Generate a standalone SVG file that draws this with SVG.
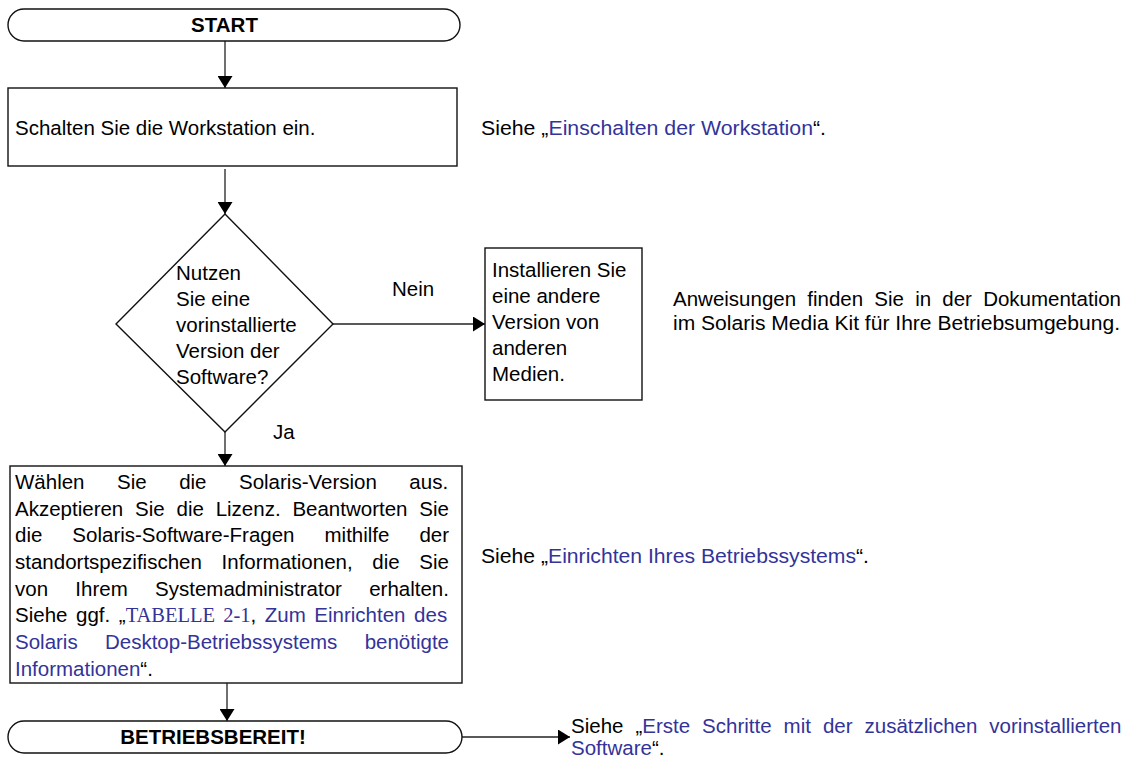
<svg xmlns="http://www.w3.org/2000/svg" width="1130" height="763" viewBox="0 0 1130 763">
<defs>
<style>
.t{font-family:"Liberation Sans",Arial,Helvetica,sans-serif;font-size:20.5px;fill:#000}
.b{font-weight:bold}
.l{fill:#333399}
.s{font-family:"Liberation Serif","Times New Roman",serif}
.shape{fill:#fff;stroke:#111;stroke-width:1.4}
.con{fill:none;stroke:#222;stroke-width:1.3}
</style>
<marker id="ah" viewBox="0 0 12 15" refX="12" refY="7.5" markerWidth="12" markerHeight="15" markerUnits="userSpaceOnUse" orient="auto">
<path d="M0,0 L12,7.5 L0,15 z" fill="#000"/>
</marker>
</defs>
<rect width="1130" height="763" fill="#fff"/>

<g id="connectors">
<path class="con" d="M225,41 V88" marker-end="url(#ah)"/>
<path class="con" d="M225,169 V214" marker-end="url(#ah)"/>
<path class="con" d="M333,324 H485" marker-end="url(#ah)"/>
<path class="con" d="M225,432 V466" marker-end="url(#ah)"/>
<path class="con" d="M227,683 V721" marker-end="url(#ah)"/>
<path class="con" d="M462,737 H570" marker-end="url(#ah)"/>
<text class="t" x="392" y="296">Nein</text>
<text class="t" x="273" y="439">Ja</text>
</g>

<g id="start">
<rect class="shape" x="8" y="9" width="452" height="32" rx="16" ry="16"/>
<text class="t b" x="224.5" y="32" text-anchor="middle">START</text>
</g>

<g id="step-power">
<rect class="shape" x="8" y="88" width="449" height="78"/>
<text class="t" x="15" y="135">Schalten Sie die Workstation ein.</text>
</g>

<g id="note-power">
<text class="t" x="481" y="135" textLength="345" lengthAdjust="spacingAndGlyphs">Siehe „<tspan class="l">Einschalten der Workstation</tspan>“.</text>
</g>

<g id="decision">
<path class="shape" d="M225,214 L333,324 L225,432 L116,324 Z"/>
<text class="t" x="176" y="280">Nutzen</text>
<text class="t" x="176" y="306">Sie eine</text>
<text class="t" x="176" y="332">vorinstallierte</text>
<text class="t" x="176" y="358">Version der</text>
<text class="t" x="176" y="384">Software?</text>
</g>

<g id="step-other">
<rect class="shape" x="485" y="248" width="157" height="152"/>
<text class="t" x="492" y="277">Installieren Sie</text>
<text class="t" x="492" y="303">eine andere</text>
<text class="t" x="492" y="329">Version von</text>
<text class="t" x="492" y="355">anderen</text>
<text class="t" x="492" y="381">Medien.</text>
</g>

<g id="note-other">
<text class="t" x="673" y="306" style="word-spacing:5.5px">Anweisungen finden Sie in der Dokumentation</text>
<text class="t" x="673" y="330" textLength="447" lengthAdjust="spacingAndGlyphs">im Solaris Media Kit für Ihre Betriebsumgebung.</text>
</g>

<g id="step-setup">
<rect class="shape" x="10" y="466" width="452" height="217"/>
<text class="t" x="15" y="489" style="word-spacing:26.8px">Wählen Sie die Solaris-Version aus.</text>
<text class="t" x="15" y="516" style="word-spacing:6.1px">Akzeptieren Sie die Lizenz. Beantworten Sie</text>
<text class="t" x="15" y="542" style="word-spacing:24.3px">die Solaris-Software-Fragen mithilfe der</text>
<text class="t" x="15" y="569" style="word-spacing:14px">standortspezifischen Informationen, die Sie</text>
<text class="t" x="15" y="596" style="word-spacing:21.6px">von Ihrem Systemadministrator erhalten.</text>
<text class="t" x="15" y="622" style="word-spacing:2.9px">Siehe ggf. „<tspan class="l s">TABELLE 2-1</tspan>, <tspan class="l">Zum Einrichten des</tspan></text>
<text class="t l" x="15" y="649" style="word-spacing:21.6px">Solaris Desktop-Betriebssystems benötigte</text>
<text class="t" x="15" y="676"><tspan class="l">Informationen</tspan>“.</text>
</g>

<g id="note-setup">
<text class="t" x="481" y="563" textLength="388" lengthAdjust="spacingAndGlyphs">Siehe „<tspan class="l">Einrichten Ihres Betriebssystems</tspan>“.</text>
</g>

<g id="end">
<rect class="shape" x="8" y="721" width="454" height="32" rx="16" ry="16"/>
<text class="t b" x="213" y="744" text-anchor="middle">BETRIEBSBEREIT!</text>
</g>

<g id="note-end">
<text class="t" x="571" y="733" style="word-spacing:6.3px">Siehe „<tspan class="l">Erste Schritte mit der zusätzlichen vorinstallierten</tspan></text>
<text class="t" x="571" y="755"><tspan class="l">Software</tspan>“.</text>
</g>
</svg>
